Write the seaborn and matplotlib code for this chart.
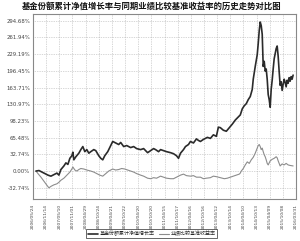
import matplotlib
matplotlib.use("Agg")
import matplotlib.pyplot as plt
import numpy as np
import pandas as pd
import seaborn as sns

# fund cumulative NAV growth (%), x read as pixel columns of the reference
fund_x_px = [35, 38, 41, 44, 47, 50, 53, 56, 58, 60, 63, 65, 67, 69, 71, 72, 73, 75, 78, 80,
             82, 84, 86, 88, 90, 93, 95, 98, 100, 102, 104, 107, 110, 112, 115, 118, 120, 123, 126, 130,
             133, 136, 140, 143, 147, 150, 153, 155, 158, 160, 163, 166, 170, 173, 176, 178, 180, 183, 185, 188,
             190, 193, 196, 198, 200, 203, 207, 210, 213, 216, 218, 220, 223, 226, 229, 232, 235, 238, 240, 242,
             244, 246, 248, 250, 252, 253, 255, 257, 258, 259, 260, 261, 262, 263, 264, 265, 266, 267, 268, 269,
             270, 271, 272, 273, 274, 275, 276, 277, 278, 279, 280, 281, 282, 283, 284, 285, 286, 287, 288, 289,
             290, 291, 292, 293]
fund_val = [0, 1, -2, -5, -8, -10, -7, -4, -8, 3, 10, 16, 13, 25, 30, 37, 22, 28, 35, 42,
            48, 38, 42, 35, 38, 42, 40, 30, 25, 22, 30, 38, 50, 58, 55, 52, 56, 48, 50, 46,
            48, 44, 42, 44, 36, 40, 44, 42, 38, 42, 40, 38, 36, 34, 30, 25, 35, 42, 48, 52,
            58, 55, 63, 60, 58, 62, 66, 64, 71, 68, 86, 85, 80, 78, 85, 92, 100, 106, 110, 122,
            128, 132, 140, 146, 160, 180, 205, 228, 250, 275, 292, 285, 268, 205, 215, 196, 200, 180, 150, 140,
            125, 160, 178, 200, 220, 230, 240, 245, 225, 195, 168, 175, 158, 170, 180, 174, 165, 178, 172, 183,
            176, 185, 180, 188]

bench_x_px = [35, 37, 40, 43, 46, 48, 50, 53, 56, 58, 60, 63, 66, 69, 71, 72, 74, 76, 78, 80,
              83, 86, 90, 93, 96, 99, 102, 105, 108, 112, 115, 118, 121, 124, 127, 130, 133, 136, 140, 143,
              147, 150, 153, 156, 160, 163, 166, 170, 173, 176, 180, 183, 186, 190, 193, 196, 200, 203, 206, 210,
              213, 216, 220, 224, 227, 230, 233, 236, 239, 240, 241, 243, 245, 247, 249, 251, 253, 255, 257, 258,
              259, 260, 261, 262, 263, 264, 265, 266, 267, 268, 270, 272, 274, 276, 277, 278, 280, 282, 284, 286,
              288, 290, 293]
bench_val = [0, -5, -12, -20, -28, -33, -30, -27, -25, -22, -18, -14, -8, -2, 4, 8, 2, 0, 3, 5,
             4, 2, 0, -2, -5, -8, -10, -5, 0, 4, 2, 3, 5, 4, 2, 0, -2, -5, -8, -10,
             -14, -15, -13, -14, -10, -12, -14, -15, -15, -12, -8, -6, -9, -10, -9, -12, -12, -15, -14, -13,
             -10, -11, -13, -15, -14, -12, -10, -8, -6, -4, 0, 5, 12, 18, 15, 22, 27, 35, 45, 50,
             52, 48, 42, 45, 38, 32, 28, 22, 15, 12, 20, 23, 25, 28, 26, 20, 10, 14, 12, 15,
             12, 11, 10]

yticks = [-32.74, 0.00, 32.74, 65.48, 98.23, 130.97, 163.71, 196.45, 229.19, 261.94, 294.68]
date_labels = ["2006/05/24", "2006/11/14", "2007/05/10", "2007/11/01", "2008/04/29", "2008/10/24",
               "2009/04/21", "2009/10/22", "2010/04/20", "2010/10/20", "2011/04/15", "2011/10/17",
               "2012/04/16", "2012/10/16", "2013/04/12", "2013/10/14", "2014/04/10", "2014/10/13",
               "2015/04/09", "2015/10/08", "2016/03/31"]

title = "基金份额累计净值增长率与同期业绩比较基准收益率的历史走势对比图"
fund_name = "基金份额累计净值增长率"
bench_name = "业绩比较基准收益率"

# pixel column -> tick index
def to_idx(px):
    return (np.array(px) - 32.0) / 13.2

sns.set_style("white")
plt.rcParams['font.family'] = ['Noto Sans CJK SC', 'DejaVu Sans']

fig = plt.figure(figsize=(3.0, 2.41), dpi=100)
ax = fig.add_axes([0.11, 0.174, 0.877, 0.768])

sns.lineplot(x=to_idx(bench_x_px), y=bench_val, ax=ax, color="#8c8c8c", linewidth=0.8,
             label=bench_name, sort=False)
sns.lineplot(x=to_idx(fund_x_px), y=fund_val, ax=ax, color="#2b2b2b", linewidth=1.2,
             label=fund_name, sort=False)

ax.set_xlim(0, 20)
ax.set_ylim(-54.9, 307.8)
ax.set_xticks(range(len(date_labels)))
ax.set_xticklabels(date_labels, rotation=90, fontsize=3.2, color="#444444", family="DejaVu Sans")
ax.set_yticks(yticks)
ax.set_yticklabels(["%.2f%%" % v for v in yticks], fontsize=3.9, color="#444444", family="DejaVu Sans")
ax.tick_params(axis="x", length=2, width=0.5, pad=1.5, color="#666666")
ax.tick_params(axis="y", length=0, pad=2)
ax.grid(True, linestyle=(0, (1, 1.5)), color="#b0b0b0", linewidth=0.5)
for s in ax.spines.values():
    s.set_color("#888888")
    s.set_linewidth(0.8)

ax.get_legend().remove()
h, l = ax.get_legend_handles_labels()
leg = fig.legend([h[1], h[0]], [l[1], l[0]], loc="center", bbox_to_anchor=(0.505, 0.031), ncol=2,
                 fontsize=3.6, frameon=True, fancybox=False, edgecolor="#222222",
                 handlelength=2.0, handletextpad=0.4, columnspacing=0.8, borderpad=0.3)
leg.get_frame().set_linewidth(0.6)

fig.text(0.505, 0.975, title, ha="center", va="center", fontsize=6.0, fontweight="bold", color="#111111")

fig.savefig("out.png", dpi=100)
